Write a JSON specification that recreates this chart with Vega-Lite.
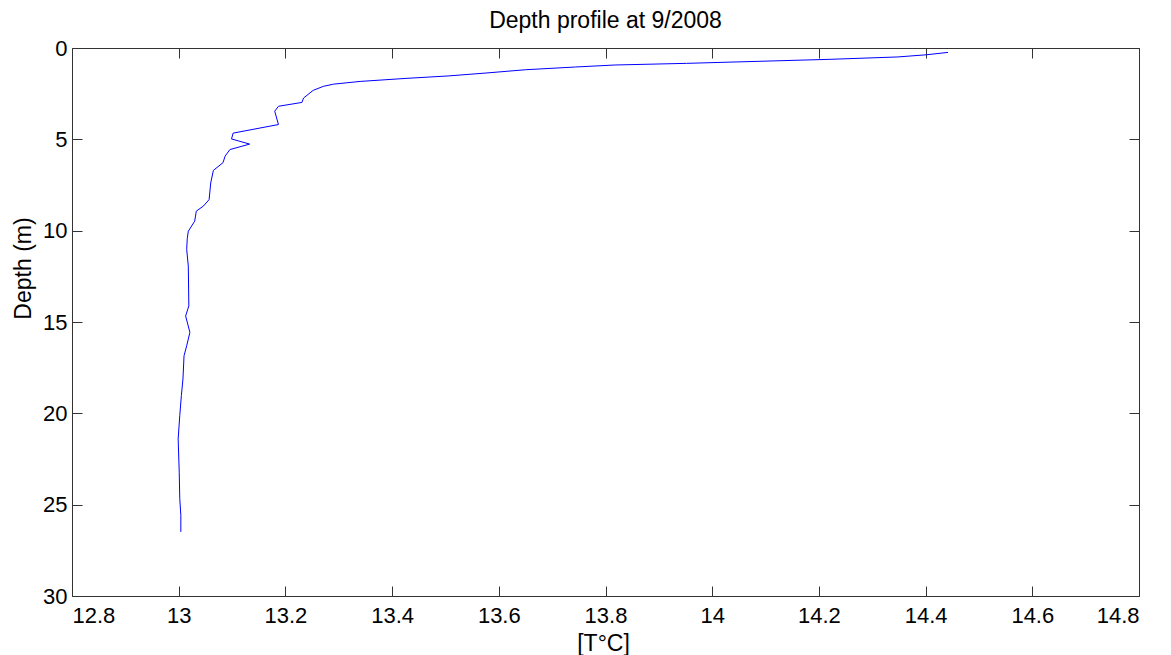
{
  "$schema": "https://vega.github.io/schema/vega-lite/v6.json",
  "width": 1067,
  "height": 548,
  "autosize": "none",
  "padding": {"left": 72, "top": 48, "right": 32, "bottom": 59},
  "background": "white",
  "title": {"text": "Depth profile at 9/2008", "fontSize": 23, "font": "Liberation Sans", "fontWeight": "normal", "color": "black", "offset": 4},
  "data": {"values": [
    {"depth": 0.24, "temperature": 14.442},
    {"depth": 0.37, "temperature": 14.402},
    {"depth": 0.49, "temperature": 14.348},
    {"depth": 0.62, "temperature": 14.221},
    {"depth": 0.73, "temperature": 14.086},
    {"depth": 0.84, "temperature": 13.952},
    {"depth": 0.93, "temperature": 13.818},
    {"depth": 1.04, "temperature": 13.744},
    {"depth": 1.19, "temperature": 13.650},
    {"depth": 1.37, "temperature": 13.576},
    {"depth": 1.53, "temperature": 13.505},
    {"depth": 1.66, "temperature": 13.428},
    {"depth": 1.83, "temperature": 13.340},
    {"depth": 1.98, "temperature": 13.290},
    {"depth": 2.10, "temperature": 13.271},
    {"depth": 2.32, "temperature": 13.252},
    {"depth": 2.74, "temperature": 13.234},
    {"depth": 2.98, "temperature": 13.231},
    {"depth": 3.19, "temperature": 13.187},
    {"depth": 3.46, "temperature": 13.180},
    {"depth": 4.19, "temperature": 13.187},
    {"depth": 4.66, "temperature": 13.102},
    {"depth": 4.98, "temperature": 13.099},
    {"depth": 5.26, "temperature": 13.133},
    {"depth": 5.56, "temperature": 13.096},
    {"depth": 5.92, "temperature": 13.087},
    {"depth": 6.28, "temperature": 13.083},
    {"depth": 6.70, "temperature": 13.065},
    {"depth": 7.39, "temperature": 13.060},
    {"depth": 8.30, "temperature": 13.057},
    {"depth": 8.66, "temperature": 13.046},
    {"depth": 8.93, "temperature": 13.033},
    {"depth": 9.48, "temperature": 13.030},
    {"depth": 10.03, "temperature": 13.018},
    {"depth": 10.44, "temperature": 13.016},
    {"depth": 11.03, "temperature": 13.015},
    {"depth": 11.94, "temperature": 13.018},
    {"depth": 14.12, "temperature": 13.019},
    {"depth": 14.67, "temperature": 13.013},
    {"depth": 15.57, "temperature": 13.021},
    {"depth": 16.30, "temperature": 13.015},
    {"depth": 16.85, "temperature": 13.010},
    {"depth": 18.12, "temperature": 13.008},
    {"depth": 19.03, "temperature": 13.005},
    {"depth": 20.12, "temperature": 13.002},
    {"depth": 21.40, "temperature": 12.999},
    {"depth": 23.22, "temperature": 13.001},
    {"depth": 24.67, "temperature": 13.002},
    {"depth": 25.58, "temperature": 13.004},
    {"depth": 26.49, "temperature": 13.004}
  ]},
  "layer": [
    {
      "mark": {"type": "line", "color": "#0000ff", "strokeWidth": 1, "clip": true},
      "encoding": {
        "x": {"field": "temperature", "type": "quantitative",
              "scale": {"domain": [12.8, 14.8], "nice": false, "zero": false},
              "axis": {"orient": "bottom", "values": [12.8, 13, 13.2, 13.4, 13.6, 13.8, 14, 14.2, 14.4, 14.6, 14.8], "format": "~g",
                       "title": "[T°C]", "titleX": 531, "titleY": 54, "titleBaseline": "alphabetic", "titleAlign": "center",
                       "labelPadding": 19}},
        "y": {"field": "depth", "type": "quantitative",
              "scale": {"domain": [0, 30], "reverse": true, "nice": false, "zero": false},
              "axis": {"orient": "left", "values": [0, 5, 10, 15, 20, 25, 30], "format": "~g",
                       "title": "Depth (m)", "titleX": -42, "titleY": 220, "titleAngle": -90, "titleBaseline": "alphabetic", "titleAlign": "center",
                       "labelPadding": 15}},
        "order": {"field": "depth", "type": "quantitative"}
      }
    },
    {
      "mark": {"type": "line", "opacity": 0},
      "encoding": {
        "x": {"field": "temperature", "type": "quantitative",
              "axis": {"orient": "top", "values": [12.8, 13, 13.2, 13.4, 13.6, 13.8, 14, 14.2, 14.4, 14.6, 14.8], "labels": false, "title": null}},
        "y": {"field": "depth", "type": "quantitative",
              "axis": {"orient": "right", "values": [0, 5, 10, 15, 20, 25, 30], "labels": false, "title": null}},
        "order": {"field": "depth", "type": "quantitative"}
      }
    }
  ],
  "resolve": {"axis": {"x": "independent", "y": "independent"}},
  "config": {
    "view": {"stroke": null},
    "axis": {
      "grid": false,
      "domainColor": "#333333",
      "domainWidth": 1,
      "tickColor": "#333333",
      "tickSize": -10,
      "tickWidth": 1,
      "labelFont": "Liberation Sans",
      "labelFontSize": 22,
      "labelColor": "black",
      "titleFont": "Liberation Sans",
      "titleFontSize": 23,
      "titleFontWeight": "normal",
      "titleColor": "black"
    }
  }
}
